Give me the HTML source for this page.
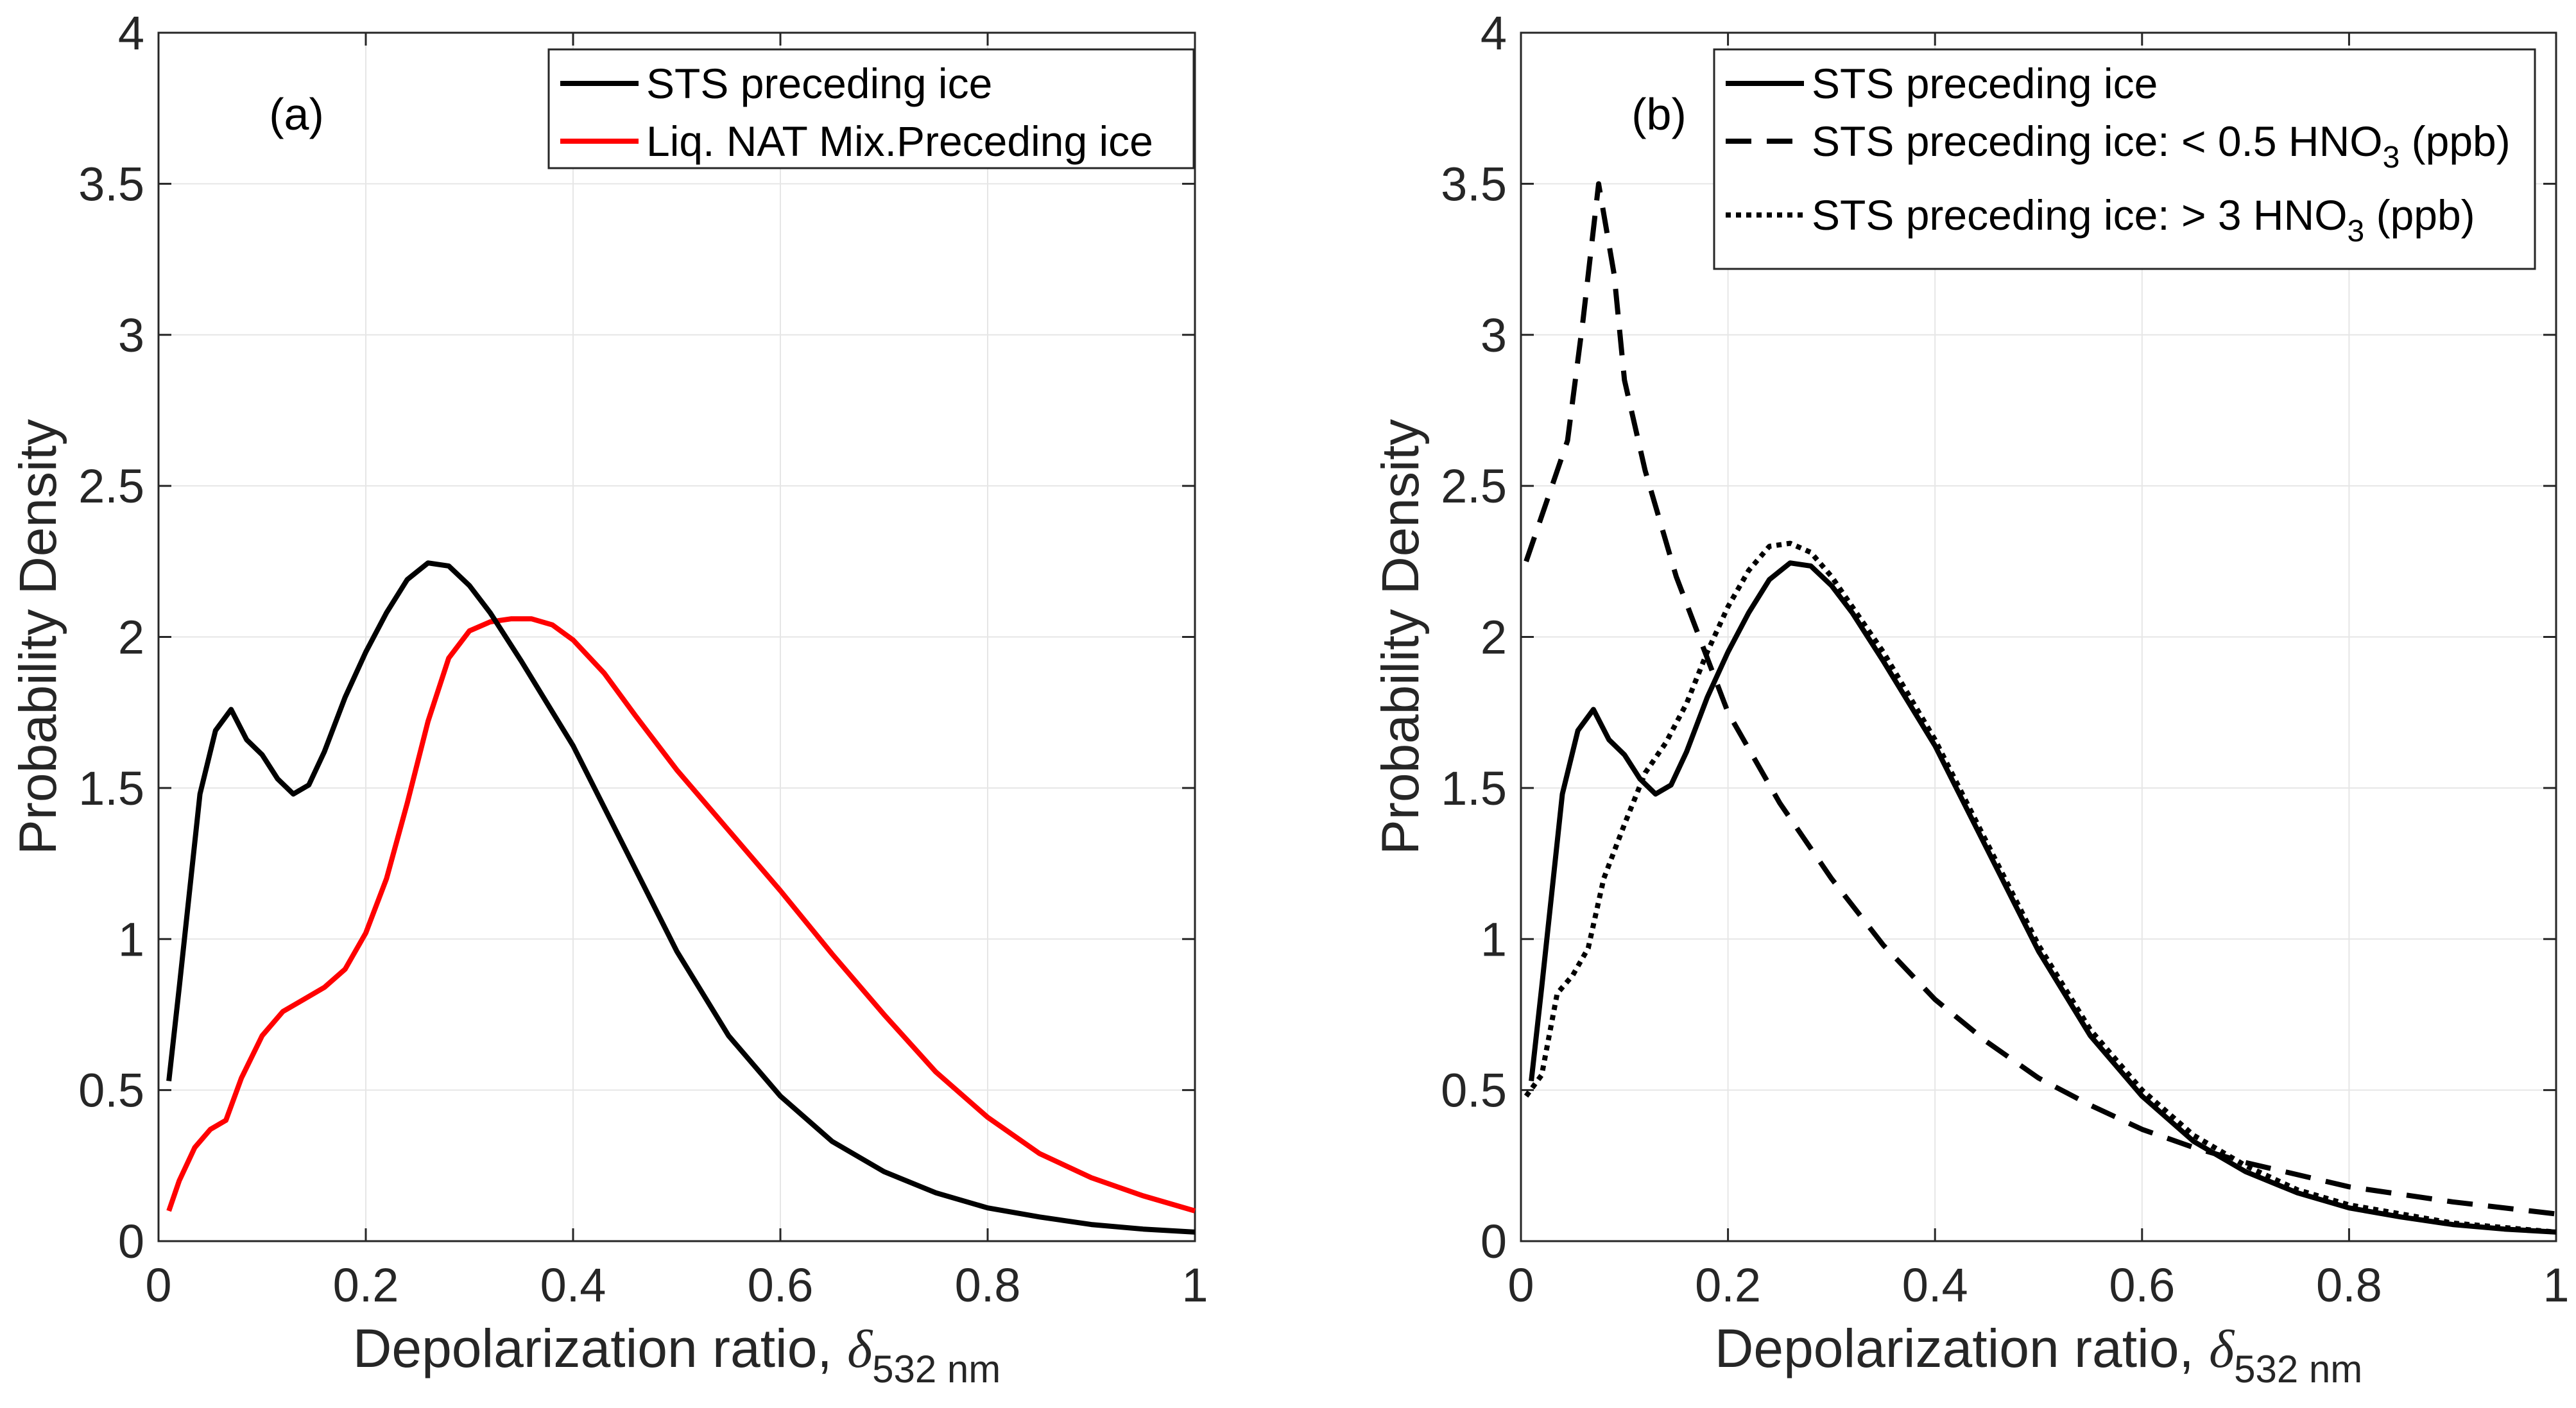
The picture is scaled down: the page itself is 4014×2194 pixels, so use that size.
<!DOCTYPE html>
<html><head><meta charset="utf-8"><style>
html,body{margin:0;padding:0;background:#fff}
svg{display:block;font-family:"Liberation Sans",sans-serif}
</style></head><body>
<svg id="c" width="4014" height="2194" viewBox="0 0 4014 2194" xmlns="http://www.w3.org/2000/svg"></svg>
<script>
const xTicks=[0,0.2,0.4,0.6,0.8,1];
const yTicks=[0,0.5,1,1.5,2,2.5,3,3.5,4];
const yTickLabels=["0","0.5","1","1.5","2","2.5","3","3.5","4"];
const xTickLabels=["0","0.2","0.4","0.6","0.8","1"];
const stsX=[0.01,0.02,0.04,0.055,0.07,0.085,0.10,0.115,0.13,0.145,0.16,0.18,0.2,0.22,0.24,0.26,0.28,0.30,0.32,0.35,0.4,0.45,0.5,0.55,0.6,0.65,0.7,0.75,0.8,0.85,0.9,0.95,1.0];
const stsY=[0.53,0.84,1.48,1.69,1.76,1.66,1.61,1.53,1.48,1.51,1.62,1.8,1.95,2.08,2.19,2.245,2.235,2.17,2.08,1.92,1.64,1.3,0.96,0.68,0.48,0.33,0.23,0.16,0.11,0.08,0.055,0.04,0.03];
const natX=[0.01,0.02,0.035,0.05,0.065,0.08,0.1,0.12,0.14,0.16,0.18,0.2,0.22,0.24,0.26,0.28,0.3,0.32,0.34,0.36,0.38,0.4,0.43,0.46,0.5,0.55,0.6,0.65,0.7,0.75,0.8,0.85,0.9,0.95,1.0];
const natY=[0.1,0.2,0.31,0.37,0.4,0.54,0.68,0.76,0.8,0.84,0.9,1.02,1.2,1.45,1.72,1.93,2.02,2.05,2.06,2.06,2.04,1.99,1.88,1.74,1.56,1.36,1.16,0.95,0.75,0.56,0.41,0.29,0.21,0.15,0.1];
const lowX=[0.005,0.02,0.045,0.06,0.075,0.09,0.1,0.12,0.15,0.2,0.25,0.3,0.35,0.4,0.45,0.5,0.55,0.6,0.65,0.7,0.75,0.8,0.9,1.0];
const lowY=[2.25,2.4,2.65,3.05,3.5,3.2,2.85,2.55,2.2,1.75,1.45,1.2,0.98,0.8,0.66,0.54,0.45,0.37,0.31,0.26,0.22,0.18,0.13,0.09];
const highX=[0.005,0.02,0.035,0.05,0.065,0.08,0.1,0.12,0.14,0.16,0.18,0.2,0.22,0.24,0.26,0.28,0.3,0.35,0.4,0.45,0.5,0.55,0.6,0.65,0.7,0.75,0.8,0.9,1.0];
const highY=[0.48,0.55,0.82,0.88,0.97,1.2,1.38,1.55,1.65,1.78,1.95,2.1,2.22,2.3,2.31,2.28,2.2,1.95,1.66,1.32,0.98,0.7,0.5,0.35,0.25,0.17,0.12,0.06,0.03];

const svg=document.getElementById('c');
const NS="http://www.w3.org/2000/svg";
function mk(tag,attrs,parent,text){const e=document.createElementNS(NS,tag);for(const k in attrs)e.setAttribute(k,attrs[k]);if(text!==undefined)e.textContent=text;(parent||svg).appendChild(e);return e;}
const Y0=1934,Y4=51;
const sy=v=>Y0+(Y4-Y0)*v/4;

function panel(x0,x1,name,tag,series,legend,leg){
  const sx=v=>x0+(x1-x0)*v;
  const g=mk('g',{});
  
  
  xTicks.forEach((t,i)=>{
    const l=mk('line',{x1:sx(t),x2:sx(t),y1:Y4,y2:Y0,stroke:'#e6e6e6','stroke-width':2},g);
    
    mk('line',{x1:sx(t),x2:sx(t),y1:Y0,y2:Y0-20,stroke:'#262626','stroke-width':3},g);
    mk('line',{x1:sx(t),x2:sx(t),y1:Y4,y2:Y4+20,stroke:'#262626','stroke-width':3},g);
    const tx=mk('text',{x:sx(t),y:2028,'font-size':74,'text-anchor':'middle',fill:'#262626'},g,xTickLabels[i]);
    
  });
  yTicks.forEach((t,i)=>{
    const l=mk('line',{x1:x0,x2:x1,y1:sy(t),y2:sy(t),stroke:'#e6e6e6','stroke-width':2},g);
    
    mk('line',{x1:x0,x2:x0+20,y1:sy(t),y2:sy(t),stroke:'#262626','stroke-width':3},g);
    mk('line',{x1:x1,x2:x1-20,y1:sy(t),y2:sy(t),stroke:'#262626','stroke-width':3},g);
    const tx=mk('text',{x:x0-22,y:sy(t)+26,'font-size':74,'text-anchor':'end',fill:'#262626'},g,yTickLabels[i]);
    
  });
  const fr=mk('rect',{x:x0,y:Y4,width:x1-x0,height:Y0-Y4,fill:'none',stroke:'#262626','stroke-width':3},g);
  
  series.forEach(s=>{
    const d=s.x.map((v,i)=>(i?'L':'M')+sx(v).toFixed(1)+','+sy(s.y[i]).toFixed(1)).join(' ');
    const p=mk('path',{d:d,fill:'none',stroke:s.c,'stroke-width':8,'stroke-dasharray':s.dash||'none','stroke-linejoin':'round'},g);
    
  });
  const tl=mk('text',{x:x0+215,y:202,'font-size':70,'text-anchor':'middle',fill:'#000'},g,tag);
  
  const yl=mk('text',{x:0,y:0,'font-size':82,'text-anchor':'middle',fill:'#262626',transform:`translate(${x0-160},${sy(2)}) rotate(-90)`},g,'Probability Density');
  
  const xl=mk('text',{x:(x0+x1)/2,y:2130,'font-size':84,'text-anchor':'middle',fill:'#262626'},g);
  
  xl.innerHTML='Depolarization ratio, <tspan font-family="Liberation Serif" font-style="italic">δ</tspan><tspan font-size="60" dy="24">532 nm</tspan>';
  const lg=mk('g',{},g);
  
  mk('rect',{x:leg.x,y:leg.y,width:leg.w,height:leg.h,fill:'#fff',stroke:'#262626','stroke-width':3},lg);
  legend.forEach(e=>{
    const eg=mk('g',{},lg);
    
    mk('line',{x1:leg.x+18,x2:leg.x+140,y1:e.y,y2:e.y,stroke:e.c,'stroke-width':8,'stroke-dasharray':e.dash||'none'},eg);
    const t=mk('text',{x:leg.x+152,y:e.y+23,'font-size':66,fill:'#000'},eg);
    t.innerHTML=e.t;
  });
}
panel(247,1862,'panel-a','(a)',
 [{x:natX,y:natY,c:'#ff0000',name:'liq-nat-mix-line'},{x:stsX,y:stsY,c:'#000',name:'sts-preceding-ice-line'}],
 [{y:130,c:'#000',t:'STS preceding ice'},{y:220,c:'#ff0000',t:'Liq. NAT Mix.Preceding ice'}],
 {x:855,y:77,w:1005,h:185});
panel(2370,3983,'panel-b','(b)',
 [{x:stsX,y:stsY,c:'#000',name:'sts-preceding-ice-line'},{x:lowX,y:lowY,c:'#000',dash:'40 24',name:'sts-low-hno3-line'},{x:highX,y:highY,c:'#000',dash:'8 8',name:'sts-high-hno3-line'}],
 [{y:130,c:'#000',t:'STS preceding ice'},{y:220,c:'#000',dash:'40 24',t:'STS preceding ice: &lt; 0.5 HNO<tspan font-size="48" dy="18">3</tspan><tspan dy="-18"> (ppb)</tspan>'},{y:335,c:'#000',dash:'8 8',t:'STS preceding ice: &gt; 3 HNO<tspan font-size="48" dy="18">3</tspan><tspan dy="-18"> (ppb)</tspan>'}],
 {x:2671,y:77,w:1279,h:342});
</script>
</body></html>
